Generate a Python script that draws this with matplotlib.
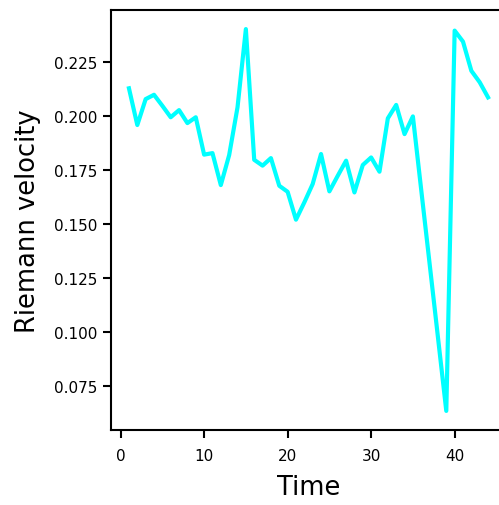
import matplotlib
matplotlib.use("Agg")
import matplotlib.pyplot as plt

time = list(range(1, 45))
velocity = [0.2127, 0.1957, 0.2077, 0.2097, 0.2046, 0.1993, 0.2026, 0.1966, 0.1993, 0.1820,
            0.1827, 0.1679, 0.1818, 0.2039, 0.2401, 0.1796, 0.1769, 0.1804, 0.1676, 0.1648,
            0.1519, 0.1599, 0.1684, 0.1823, 0.1650, 0.1722, 0.1792, 0.1645, 0.1772, 0.1807,
            0.1741, 0.1988, 0.2050, 0.1915, 0.1997, 0.1656, 0.1316, 0.0975, 0.0634, 0.2394,
            0.2343, 0.2208, 0.2155, 0.2085]

fig = plt.figure(figsize=(4.99, 5.06), dpi=100)
ax = fig.add_axes([111/499, 1 - 431/506, (506 - 111)/499, (431 - 11)/506])
ax.plot(time, velocity, color="#00FFFF", linewidth=3)
ax.set_xlabel("Time", fontsize=18.5, labelpad=8)
ax.set_ylabel("Riemann velocity", fontsize=18.5, labelpad=9)
ax.set_xticks([0, 10, 20, 30, 40])
ax.set_yticks([0.075, 0.100, 0.125, 0.150, 0.175, 0.200, 0.225])
ax.tick_params(labelsize=11, length=6, width=1.5)
ax.tick_params(axis="x", pad=7)
ax.tick_params(axis="y", pad=4)
for s in ax.spines.values():
    s.set_linewidth(1.5)
fig.savefig("out.png", dpi=100)
